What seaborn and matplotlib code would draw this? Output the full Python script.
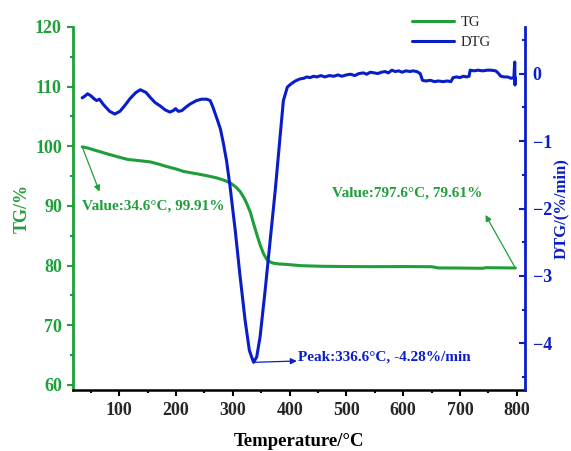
import numpy as np
import pandas as pd
import matplotlib
matplotlib.use("Agg")
import matplotlib.pyplot as plt
from matplotlib.ticker import MultipleLocator
import seaborn as sns

# TG curve (mass retained, %)
tg_temp = [34.6, 45, 55, 66, 80, 95, 115, 135, 154, 170, 184, 200, 213, 230, 242,
           258, 272, 285, 295, 305, 313, 320, 325, 331, 336, 342, 348, 354, 360,
           366, 372, 380, 395, 420, 454, 500, 550, 600, 650, 662, 700, 740, 746, 797.6]
tg_mass = [99.91, 99.7, 99.4, 99.1, 98.7, 98.3, 97.8, 97.6, 97.4, 97.0, 96.6, 96.2,
           95.8, 95.5, 95.3, 95.0, 94.7, 94.3, 93.9, 93.2, 92.4, 91.3, 90.3, 88.9,
           87.2, 85.3, 83.5, 82.0, 81.0, 80.6, 80.4, 80.3, 80.2, 80.0, 79.9, 79.85,
           79.83, 79.85, 79.82, 79.62, 79.6, 79.56, 79.66, 79.61]

# DTG curve (mass-loss rate, %/min)
dtg_temp = [34.6, 40, 44, 50, 55, 60, 65, 72, 83, 92, 101, 110, 119, 128, 133, 137,
            142, 147, 154, 163, 172, 181, 189, 195, 199, 204, 210, 217, 225, 236,
            245, 254, 260, 265, 272, 278, 283, 289, 295, 301, 304, 312, 321.6, 329,
            333, 336.6, 342, 348, 357, 366, 375, 383, 389,
            396, 403, 410, 418, 425, 430, 436, 442, 448, 455, 462, 470, 478, 485,
            492, 500, 507, 515, 522, 530, 536, 542, 549, 555, 562, 568, 574, 580,
            586, 592, 598, 605, 612, 617, 624, 630, 634, 640, 648, 655, 662, 670,
            678, 684, 688, 694, 700, 706, 712, 716, 718, 725, 732, 740, 748, 755,
            763, 767, 772, 778, 784, 790, 795, 796.5, 797.0, 797.6]
dtg_rate = [-0.36, -0.33, -0.30, -0.33, -0.37, -0.40, -0.38, -0.46, -0.56, -0.60,
            -0.56, -0.47, -0.37, -0.29, -0.26, -0.24, -0.26, -0.28, -0.35, -0.43,
            -0.48, -0.54, -0.57, -0.55, -0.52, -0.56, -0.55, -0.50, -0.45, -0.40,
            -0.38, -0.38, -0.40, -0.50, -0.67, -0.82, -1.02, -1.30, -1.67, -2.10,
            -2.31, -2.95, -3.66, -4.10, -4.20, -4.28, -4.20, -3.90, -3.20, -2.45,
            -1.70, -0.95, -0.40,
            -0.20, -0.15, -0.11, -0.08, -0.07, -0.05, -0.06, -0.04, -0.05, -0.03,
            -0.05, -0.03, -0.04, -0.02, -0.04, -0.02, -0.01, -0.03, 0.00, 0.01,
            -0.01, 0.02, 0.01, 0.00, 0.02, 0.03, 0.01, 0.05, 0.03, 0.04, 0.02,
            0.04, 0.03, 0.04, 0.03, 0.00, -0.10, -0.11, -0.10, -0.12, -0.11, -0.12,
            -0.11, -0.12, -0.06, -0.05, -0.06, -0.04, -0.05, -0.04, 0.05, 0.04,
            0.05, 0.04, 0.05, 0.05, 0.04, 0.01, -0.04, -0.05, -0.05, -0.07, -0.06,
            0.17, -0.17, -0.06]

x_ticks = [100, 200, 300, 400, 500, 600, 700, 800]
tg_ticks = [60, 70, 80, 90, 100, 110, 120]
dtg_ticks = [-4, -3, -2, -1, 0]

GREEN = "#1f9e3a"
BLUE = "#0a1ec8"

sns.set_theme(style="ticks")
plt.rcParams["font.family"] = ["Liberation Serif", "DejaVu Serif"]

tg_df = pd.DataFrame({"Temperature": tg_temp, "TG": tg_mass})
dtg_df = pd.DataFrame({"Temperature": dtg_temp, "DTG": dtg_rate})

fig = plt.figure(figsize=(5.71, 4.51), dpi=100)
ax = fig.add_axes([73 / 571, 1 - 390 / 451, (525 - 73) / 571, (390 - 27) / 451])
ax2 = ax.twinx()

sns.lineplot(data=tg_df, x="Temperature", y="TG", ax=ax, color=GREEN, lw=2.2,
             estimator=None, sort=False, label="TG", legend=False)
sns.lineplot(data=dtg_df, x="Temperature", y="DTG", ax=ax2, color=BLUE, lw=2.2,
             estimator=None, sort=False, label="DTG", legend=False)

ax.set_xlim(18.4, 814.6)
ax.set_ylim(59.16, 120)
ax2.set_ylim(-4.69, 0.69)

ax.set_xticks(x_ticks)
ax.xaxis.set_minor_locator(MultipleLocator(50))
ax.set_yticks(tg_ticks)
ax.yaxis.set_minor_locator(MultipleLocator(5))
ax2.set_yticks(dtg_ticks)
ax2.yaxis.set_minor_locator(MultipleLocator(0.5))

for a in (ax, ax2):
    a.spines["top"].set_visible(False)
ax.spines["right"].set_visible(False)
ax2.spines["left"].set_visible(False)
ax2.spines["bottom"].set_visible(False)
ax.spines["left"].set_color(GREEN)
ax.spines["left"].set_linewidth(2.0)
ax.spines["bottom"].set_color("black")
ax.spines["bottom"].set_linewidth(1.8)
ax2.spines["right"].set_color(BLUE)
ax2.spines["right"].set_linewidth(2.0)

ax.tick_params(axis="x", which="major", direction="out", length=4, width=1.5,
               color="black", pad=4.5, labelsize=13)
ax.tick_params(axis="x", which="minor", direction="out", length=2.5, width=1.5, color="black")
ax.tick_params(axis="y", which="major", direction="out", length=4, width=1.5,
               color=GREEN, labelcolor=GREEN, pad=4.0, labelsize=13)
ax.tick_params(axis="y", which="minor", direction="out", length=2.5, width=1.5, color=GREEN)
ax2.tick_params(axis="y", which="major", direction="in", length=4, width=1.5,
                color=BLUE, labelcolor=BLUE, pad=5.5, labelsize=13)
ax2.tick_params(axis="y", which="minor", direction="in", length=2.5, width=1.5, color=BLUE)
for lab in ax.get_xticklabels() + ax.get_yticklabels() + ax2.get_yticklabels():
    lab.set_fontweight("bold")

ax.set_xlabel("Temperature/°C", fontsize=13.5, fontweight="bold", color="black")
ax.set_ylabel("TG/%", fontsize=13, fontweight="bold", color=GREEN)
ax2.set_ylabel("DTG/(%/min)", fontsize=12, fontweight="bold", color=BLUE)
ax.xaxis.set_label_coords(0.5, -0.118)
ax.yaxis.set_label_coords(-0.093, 0.5)
ax2.yaxis.set_label_coords(1.061, 0.5)

# Point annotations
arrow_g = dict(arrowstyle="-|>", color=GREEN, lw=0.9, mutation_scale=9, shrinkA=0, shrinkB=0)
arrow_b = dict(arrowstyle="-|>", color=BLUE, lw=0.9, mutation_scale=9, shrinkA=0, shrinkB=0)

ax.annotate("", xy=(65, 92.4), xytext=(tg_temp[0], tg_mass[0]), arrowprops=arrow_g)
ax.text(34.2, 90.0, "Value:34.6°C, 99.91%", color=GREEN, fontsize=11,
        fontweight="bold", ha="left", va="center")

ax.annotate("", xy=(745, 88.5), xytext=(tg_temp[-1], tg_mass[-1]), arrowprops=arrow_g)
ax.text(474.4, 92.1, "Value:797.6°C, 79.61%", color=GREEN, fontsize=11,
        fontweight="bold", ha="left", va="center")

ax2.annotate("", xy=(412.6, -4.26), xytext=(336.6, -4.28), arrowprops=arrow_b)
ax2.text(415, -4.20, "Peak:336.6°C, -4.28%/min", color=BLUE, fontsize=11,
         fontweight="bold", ha="left", va="center")

handles = [ax.get_lines()[0], ax2.get_lines()[0]]
fig.legend(handles, ["TG", "DTG"], loc="upper left",
           bbox_to_anchor=(411.7 / 571, 1 - 15.5 / 451), frameon=False,
           borderpad=0, borderaxespad=0, handlelength=2.9, handletextpad=0.45,
           labelspacing=0.5, prop=dict(family=["Liberation Serif"], size=10.5))

fig.savefig("out.png", dpi=100)
